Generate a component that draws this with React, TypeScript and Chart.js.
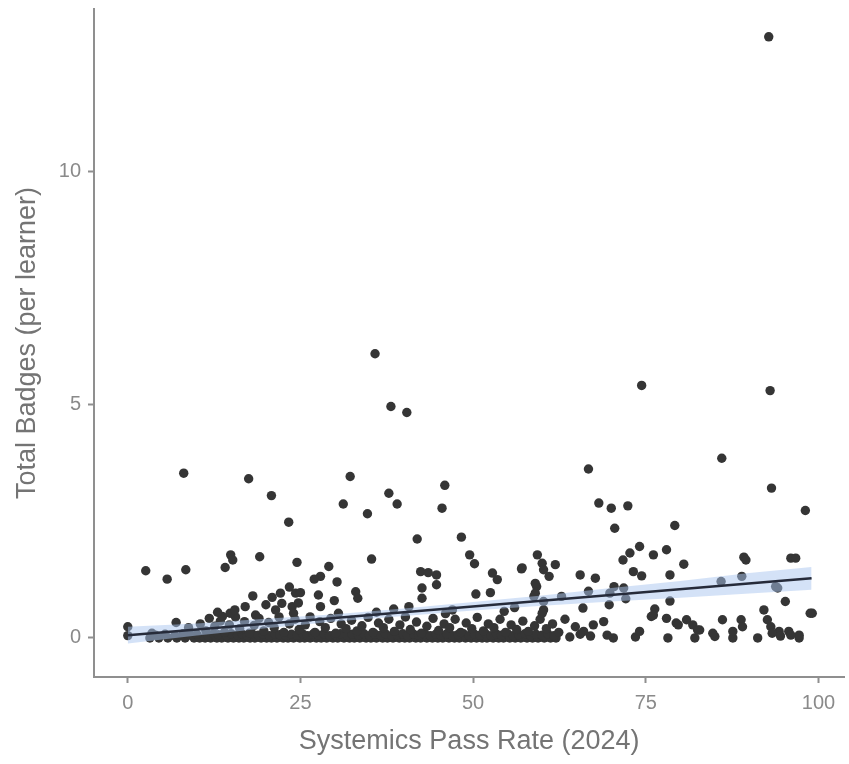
import React, { useEffect, useRef } from "react";
import { Chart, registerables } from "chart.js";

Chart.register(...registerables);

// ---- tick labels ----
const xTicks = [0, 25, 50, 75, 100];
const yTicks = [0, 5, 10];

// ---- data: [pass rate, badges per learner] ----
const highPoints: [number, number][] = [
  [92.8, 12.88], [35.8, 6.09], [38.1, 4.96], [40.4, 4.83], [74.4, 5.41], [93.0, 5.30],
  [86.0, 3.85], [93.2, 3.21], [66.7, 3.62], [8.1, 3.53], [17.5, 3.41], [20.8, 3.05],
  [23.3, 2.48], [32.2, 3.46], [31.2, 2.87], [34.7, 2.66], [37.8, 3.10], [39.0, 2.87],
  [45.9, 3.27], [45.5, 2.78], [41.9, 2.12], [48.3, 2.16], [35.3, 1.69], [49.5, 1.78],
  [50.2, 1.59], [68.2, 2.89], [70.0, 2.78], [72.4, 2.83], [70.5, 2.35], [74.1, 1.96],
  [72.7, 1.82], [71.7, 1.67], [76.1, 1.78], [78.0, 1.89], [79.2, 2.41], [98.1, 2.73],
  [80.5, 1.58], [89.2, 1.73], [96.0, 1.71], [96.7, 1.71], [59.3, 1.78], [60.0, 1.60],
  [61.9, 1.57], [57.0, 1.48], [2.6, 1.44], [5.7, 1.26], [8.4, 1.46], [14.9, 1.78],
  [15.2, 1.67], [14.1, 1.51], [19.1, 1.74], [24.5, 1.62], [29.1, 1.53], [42.4, 1.42],
  [44.7, 1.35], [43.5, 1.40], [57.1, 1.50], [60.2, 1.46], [89.5, 1.67], [52.8, 1.39],
  [73.2, 1.42],
];

const midPoints: [number, number][] = [
  [27.9, 1.32], [27.0, 1.26], [30.3, 1.20], [23.4, 1.09], [24.3, 0.96], [18.1, 0.90],
  [17.0, 0.67], [20.9, 0.87], [20.0, 0.71], [22.3, 0.74], [23.8, 0.67], [27.6, 0.92],
  [27.9, 0.67], [29.9, 0.80], [33.0, 0.99], [33.3, 0.85], [14.8, 0.53], [13.7, 0.46],
  [40.7, 0.67], [42.6, 1.07], [42.6, 0.85], [44.7, 1.14], [18.5, 0.49], [30.5, 0.53],
  [25.0, 0.97], [24.7, 0.75], [50.4, 0.94], [52.5, 0.97], [53.5, 1.25], [65.5, 1.35],
  [67.7, 1.28], [74.4, 1.33], [59.2, 1.10], [58.8, 0.89], [62.8, 0.89], [66.7, 1.00],
  [70.4, 1.10], [72.1, 0.84], [69.7, 0.71], [65.9, 0.64], [76.3, 0.62], [78.5, 1.35],
  [85.9, 1.21], [88.9, 1.32], [94.1, 1.07], [95.2, 0.78], [78.5, 0.79], [98.8, 0.53],
  [59.0, 1.17], [61.0, 1.32], [60.2, 0.78], [60.2, 0.60], [69.8, 0.96], [71.8, 1.07],
  [76.1, 0.49], [60.0, 0.53], [59.0, 0.96], [93.8, 1.10], [22.1, 0.96], [21.4, 0.60],
  [24.0, 0.53], [13.0, 0.55], [15.5, 0.60], [38.5, 0.62], [36.0, 0.55], [47.0, 0.60],
  [46.0, 0.52], [54.5, 0.57], [56.0, 0.65],
];

const lowPoints: [number, number][] = [
  [0.0, 0.24], [0.0, 0.05], [3.5, 0.10], [7.0, 0.33], [8.8, 0.22], [10.5, 0.30],
  [11.3, 0.15], [11.8, 0.42], [12.6, 0.25], [13.4, 0.36], [14.0, 0.12], [14.7, 0.28],
  [15.6, 0.45], [16.2, 0.20], [16.9, 0.35], [17.6, 0.10], [18.3, 0.27], [19.0, 0.42],
  [19.7, 0.15], [20.4, 0.33], [21.2, 0.22], [21.9, 0.45], [22.6, 0.12], [23.4, 0.30],
  [24.2, 0.40], [24.8, 0.18], [25.7, 0.28], [26.4, 0.45], [27.1, 0.12], [27.8, 0.35],
  [28.6, 0.22], [29.4, 0.42], [30.1, 0.10], [30.9, 0.30], [31.6, 0.20], [32.4, 0.38],
  [33.2, 0.15], [33.9, 0.26], [34.8, 0.44], [35.5, 0.12], [36.3, 0.32], [37.0, 0.22],
  [37.8, 0.40], [38.6, 0.14], [39.4, 0.28], [40.2, 0.45], [40.9, 0.18], [41.8, 0.34],
  [42.5, 0.10], [43.3, 0.25], [44.2, 0.42], [45.0, 0.16], [45.8, 0.30], [46.6, 0.22],
  [47.4, 0.40], [48.2, 0.12], [49.0, 0.32], [49.8, 0.20], [50.6, 0.44], [51.5, 0.15],
  [52.2, 0.30], [53.0, 0.22], [53.9, 0.40], [54.7, 0.12], [55.5, 0.28], [56.3, 0.18],
  [57.2, 0.36], [58.0, 0.14], [58.9, 0.26], [59.7, 0.40], [60.6, 0.20], [61.5, 0.30],
  [62.4, 0.12], [64.8, 0.24], [66.0, 0.14], [67.4, 0.28], [68.9, 0.35], [69.4, 0.06],
  [74.1, 0.14], [75.8, 0.46], [78.0, 0.42], [79.4, 0.32], [80.9, 0.39], [81.8, 0.28],
  [82.8, 0.17], [84.7, 0.10], [86.1, 0.39], [87.6, 0.14], [88.8, 0.39], [89.0, 0.24],
  [92.1, 0.60], [92.6, 0.39], [93.1, 0.24], [94.3, 0.14], [95.7, 0.14], [97.2, 0.06],
  [99.1, 0.53], [79.7, 0.28], [82.5, 0.17], [93.3, 0.10], [94.5, 0.04], [96.0, 0.06],
  [63.3, 0.40], [65.5, 0.08],
];

const nearZeroPoints: [number, number][] = [
  [4.0, 0.06], [5.4, 0.08], [6.8, 0.05], [8.0, 0.09], [9.1, 0.06], [10.0, 0.08],
  [11.6, 0.05], [12.4, 0.09], [13.1, 0.07], [14.3, 0.05], [15.0, 0.09], [15.9, 0.06],
  [16.6, 0.08], [17.3, 0.05], [18.0, 0.09], [18.9, 0.06], [19.6, 0.08], [20.5, 0.05],
  [21.3, 0.09], [22.0, 0.07], [22.9, 0.05], [23.7, 0.08], [24.5, 0.06], [25.3, 0.09],
  [26.0, 0.05], [26.8, 0.08], [27.6, 0.06], [28.4, 0.09], [29.2, 0.05], [30.0, 0.07],
  [30.8, 0.09], [31.8, 0.05], [32.5, 0.08], [33.4, 0.06], [34.2, 0.09], [35.0, 0.05],
  [35.8, 0.08], [36.6, 0.06], [37.3, 0.09], [38.2, 0.05], [39.0, 0.07], [39.8, 0.09],
  [40.5, 0.05], [41.4, 0.08], [42.1, 0.06], [43.0, 0.09], [43.8, 0.05], [44.6, 0.08],
  [45.3, 0.06], [46.2, 0.09], [47.0, 0.05], [47.8, 0.07], [48.6, 0.09], [49.4, 0.05],
  [50.2, 0.08], [51.0, 0.06], [51.8, 0.09], [52.6, 0.05], [53.4, 0.08], [54.1, 0.06],
  [55.0, 0.09], [55.8, 0.05], [56.6, 0.07], [57.5, 0.09], [58.3, 0.05], [59.1, 0.08],
  [60.0, 0.06], [60.8, 0.09], [61.7, 0.05],
];

const zeroPoints: [number, number][] = [
  [3.2, 0], [4.5, 0], [5.8, 0], [7.1, 0], [8.3, 0], [9.6, 0], [10.4, 0], [11.2, 0],
  [12.0, 0], [12.9, 0], [13.6, 0], [14.5, 0], [15.3, 0], [16.1, 0], [16.8, 0], [17.7, 0],
  [18.4, 0], [19.3, 0], [20.1, 0], [20.8, 0], [21.6, 0], [22.5, 0], [23.2, 0], [24.0, 0],
  [24.9, 0], [25.6, 0], [26.4, 0], [27.3, 0], [28.0, 0], [28.8, 0], [29.7, 0], [30.4, 0],
  [31.3, 0], [32.1, 0], [32.8, 0], [33.6, 0], [34.5, 0], [35.2, 0], [36.0, 0], [36.9, 0],
  [37.6, 0], [38.4, 0], [39.3, 0], [40.1, 0], [40.8, 0], [41.7, 0], [42.4, 0], [43.3, 0],
  [44.1, 0], [44.9, 0], [45.6, 0], [46.5, 0], [47.3, 0], [48.0, 0], [48.9, 0], [49.7, 0],
  [50.5, 0], [51.3, 0], [52.0, 0], [52.9, 0], [53.7, 0], [54.4, 0], [55.3, 0], [56.1, 0],
  [56.9, 0], [57.8, 0], [58.6, 0], [59.4, 0], [60.3, 0], [61.2, 0], [62.0, 0], [70.3, 0],
  [78.2, 0], [82.1, 0], [87.6, 0], [91.2, 0], [97.2, 0], [73.5, 0.02], [85.0, 0.03],
  [64.0, 0.02], [67.0, 0.04],
];

// ---- fitted linear trend and its confidence band ----
const trendPassRate = [0, 99];
const trendBadges = [0.06, 1.28];
const bandPassRate = [0, 10, 20, 30, 40, 50, 60, 70, 80, 90, 99];
const bandLower = [-0.12, 0.05, 0.21, 0.35, 0.47, 0.59, 0.69, 0.78, 0.86, 0.95, 1.03];
const bandUpper = [0.24, 0.31, 0.41, 0.51, 0.63, 0.77, 0.91, 1.07, 1.22, 1.39, 1.52];

const FONT = "'Liberation Sans', Arial, Helvetica, sans-serif";
const AXIS_GREY = "#8f8f8f";
const TICK_TEXT = "#8a8a8a";
const TITLE_TEXT = "#747474";

export default function App() {
  const canvasRef = useRef<HTMLCanvasElement | null>(null);

  useEffect(() => {
    document.body.style.margin = "0";
    const canvas = canvasRef.current;
    if (!canvas) return;

    const toXY = (pts: [number, number][]) => pts.map(([x, y]) => ({ x, y }));
    const scatterData = [
      ...toXY(zeroPoints),
      ...toXY(nearZeroPoints),
      ...toXY(lowPoints),
      ...toXY(midPoints),
      ...toXY(highPoints),
    ];
    const trendData = trendPassRate.map((x, i) => ({ x, y: trendBadges[i] }));
    const upperData = bandPassRate.map((x, i) => ({ x, y: bandUpper[i] }));
    const lowerData = bandPassRate.map((x, i) => ({ x, y: bandLower[i] }));

    const chart = new Chart(canvas, {
      type: "scatter",
      data: {
        datasets: [
          {
            type: "line",
            label: "trend",
            data: trendData,
            borderColor: "#262b3a",
            borderWidth: 2.5,
            pointRadius: 0,
            fill: false,
            order: 0,
          } as any,
          {
            type: "line",
            label: "upper",
            data: upperData,
            borderColor: "rgba(0,0,0,0)",
            borderWidth: 1,
            pointRadius: 0,
            fill: "+1",
            backgroundColor: "rgba(170,198,240,0.5)",
            order: 1,
          } as any,
          {
            type: "line",
            label: "lower",
            data: lowerData,
            borderColor: "rgba(0,0,0,0)",
            borderWidth: 1,
            pointRadius: 0,
            fill: false,
            order: 1,
          } as any,
          {
            type: "scatter",
            label: "points",
            data: scatterData,
            backgroundColor: "#353535",
            borderWidth: 0,
            pointRadius: 4.7,
            order: 2,
          } as any,
        ],
      },
      options: {
        animation: false,
        responsive: false,
        devicePixelRatio: 1,
        layout: { padding: { top: 9, right: 0, left: 0, bottom: 0 } },
        plugins: { legend: { display: false }, tooltip: { enabled: false } },
        scales: {
          x: {
            type: "linear",
            min: -4.89,
            max: 103.74,
            afterBuildTicks: (s: any) => {
              s.ticks = xTicks.map((v) => ({ value: v }));
            },
            afterFit: (s: any) => {
              s.height = 87;
              s.paddingLeft = 0;
              s.paddingRight = 0;
            },
            grid: {
              display: true,
              drawOnChartArea: false,
              drawTicks: true,
              tickLength: 6,
              tickWidth: 2,
              tickColor: AXIS_GREY,
            },
            border: { display: true, color: AXIS_GREY, width: 2 },
            ticks: {
              color: TICK_TEXT,
              font: { family: FONT, size: 20 },
              padding: 8,
              maxRotation: 0,
              autoSkip: false,
            },
            title: {
              display: true,
              text: "Systemics Pass Rate (2024)",
              color: TITLE_TEXT,
              font: { family: FONT, size: 27 },
              padding: { top: 0, bottom: 6 },
            },
          },
          y: {
            type: "linear",
            min: -0.837,
            max: 13.476,
            afterBuildTicks: (s: any) => {
              s.ticks = yTicks.map((v) => ({ value: v }));
            },
            afterFit: (s: any) => {
              s.width = 94;
              s.paddingTop = 0;
              s.paddingBottom = 0;
            },
            grid: {
              display: true,
              drawOnChartArea: false,
              drawTicks: true,
              tickLength: 6,
              tickWidth: 2,
              tickColor: AXIS_GREY,
            },
            border: { display: true, color: AXIS_GREY, width: 2 },
            ticks: {
              color: TICK_TEXT,
              font: { family: FONT, size: 20 },
              padding: 7,
              autoSkip: false,
            },
            title: {
              display: true,
              text: "Total Badges (per learner)",
              color: TITLE_TEXT,
              font: { family: FONT, size: 27 },
              padding: { top: 11, bottom: 0 },
            },
          },
        },
      } as any,
    });

    return () => chart.destroy();
  }, []);

  return (
    <div style={{ position: "absolute", left: 0, top: 0, width: 849, height: 764 }}>
      <canvas ref={canvasRef} width={849} height={764} style={{ display: "block" }} />
    </div>
  );
}
